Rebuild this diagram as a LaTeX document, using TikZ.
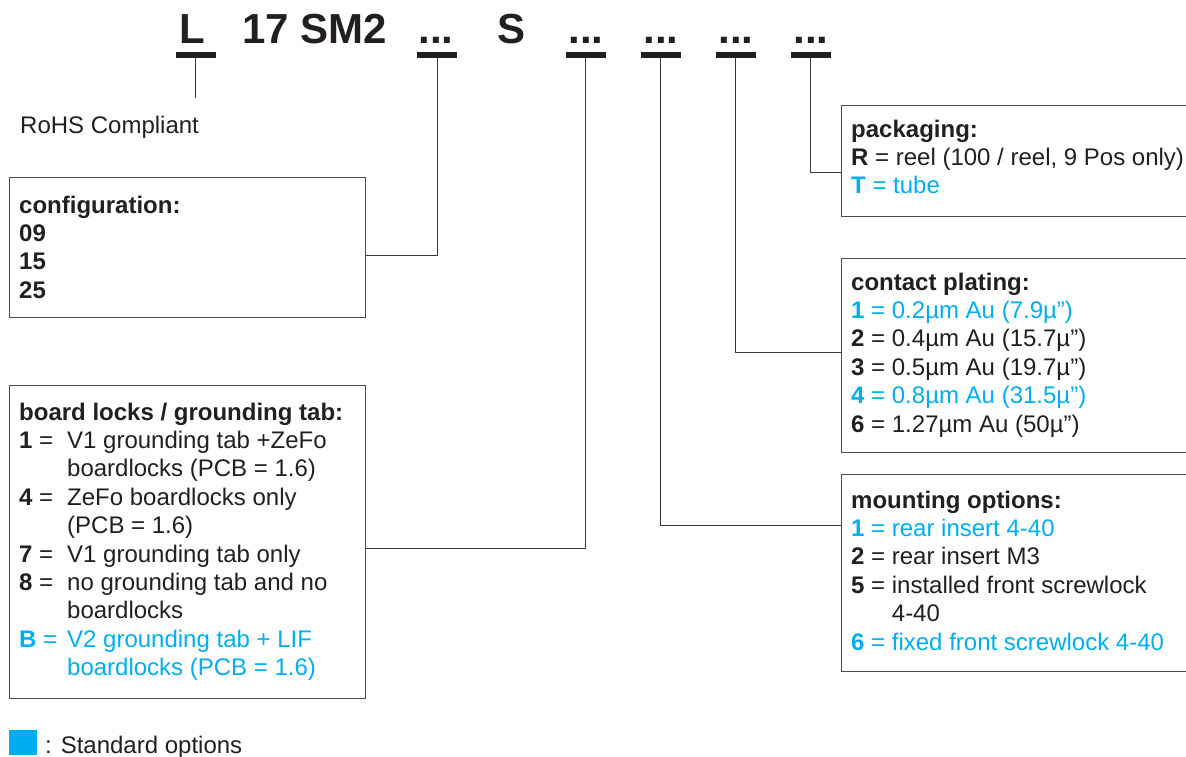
\documentclass[tikz,border=0pt]{standalone}
\usepackage{fontspec}
\setmainfont{Liberation Sans}
\definecolor{ink}{HTML}{231F20}
\definecolor{opt}{HTML}{00AEEF}
\definecolor{frame}{HTML}{4D4D4D}
\definecolor{wire}{HTML}{3A3A3A}
\newcommand\itemB[2]{\makebox[48pt][l]{\textbf{#1} =}#2}
\newcommand\indentB{\hspace*{48pt}}
\tikzset{
  hdr/.style={anchor=base, inner sep=0pt, text=ink, font=\fontsize{42}{50}\selectfont\bfseries},
  ulbar/.style={fill=ink, draw=none, inner sep=0pt, minimum width=40pt, minimum height=5.5pt},
  boxframe/.style={draw=frame, line width=1.3pt, inner sep=0pt, anchor=north west},
  txt/.style={anchor=base west, inner sep=0pt, text=ink, font=\fontsize{24}{28.4}\selectfont},
  wire/.style={draw=wire, line width=1pt},
}
\begin{document}
\begin{tikzpicture}[x=1pt,y=-1pt]
\path[use as bounding box] (0,0) rectangle (1186,756);
\clip (0,0) rectangle (1186,756);
% header
\node[hdr] (tL) at (192,43) {L};
\node[hdr] (t17) at (315,43) {17 SM2};
\node[hdr] (tc) at (436,43) {...};
\node[hdr] (tS) at (511.5,43) {S};
\node[hdr] (tb) at (586,43) {...};
\node[hdr] (tm) at (661,43) {...};
\node[hdr] (tp) at (736,43) {...};
\node[hdr] (tk) at (811,43) {...};
% underlines
\node[ulbar] (u1) at (195.5,55) {};
\node[ulbar] (u2) at (437,55) {};
\node[ulbar] (u3) at (585.5,55) {};
\node[ulbar] (u4) at (660.5,55) {};
\node[ulbar] (u5) at (735.5,55) {};
\node[ulbar] (u6) at (810.5,55) {};
% RoHS
\node[txt] (rohs) at (20,133) {RoHS Compliant};
\coordinate (rohstop) at (195.5,98);
% boxes
\node[boxframe, minimum width=356pt, minimum height=140pt] (config) at (9,177) {};
\node[boxframe, minimum width=356pt, minimum height=313pt] (board) at (9,385) {};
\node[boxframe, minimum width=400pt, minimum height=111pt] (pack) at (841,105) {};
\node[boxframe, minimum width=400pt, minimum height=194pt] (plate) at (841,258) {};
\node[boxframe, minimum width=400pt, minimum height=197pt] (mount) at (841,474) {};
% box texts
\node[txt] (configtxt) at (19,213) {\begin{tabular}[t]{@{}l@{}}
\textbf{configuration:}\\
\textbf{09}\\
\textbf{15}\\
\textbf{25}
\end{tabular}};
\node[txt] (boardtxt) at (19,420) {\begin{tabular}[t]{@{}l@{}}
\textbf{board locks / grounding tab:}\\
\itemB{1}{V1 grounding tab +ZeFo}\\
\indentB boardlocks (PCB = 1.6)\\
\itemB{4}{ZeFo boardlocks only}\\
\indentB (PCB = 1.6)\\
\itemB{7}{V1 grounding tab only}\\
\itemB{8}{no grounding tab and no}\\
\indentB boardlocks\\
\textcolor{opt}{\itemB{B}{V2 grounding tab + LIF}}\\
\textcolor{opt}{\indentB boardlocks (PCB = 1.6)}
\end{tabular}};
\node[txt] (packtxt) at (851,137) {\begin{tabular}[t]{@{}l@{}}
\textbf{packaging:}\\
\textbf{R} = reel (100 / reel, 9 Pos only)\\
\textcolor{opt}{\textbf{T} = tube}
\end{tabular}};
\node[txt] (platetxt) at (851,290) {\begin{tabular}[t]{@{}l@{}}
\textbf{contact plating:}\\
\textcolor{opt}{\textbf{1} = 0.2µm Au (7.9µ”)}\\
\textbf{2} = 0.4µm Au (15.7µ”)\\
\textbf{3} = 0.5µm Au (19.7µ”)\\
\textcolor{opt}{\textbf{4} = 0.8µm Au (31.5µ”)}\\
\textbf{6} = 1.27µm Au (50µ”)
\end{tabular}};
\node[txt] (mounttxt) at (851,508) {\begin{tabular}[t]{@{}l@{}}
\textbf{mounting options:}\\
\textcolor{opt}{\textbf{1} = rear insert 4-40}\\
\textbf{2} = rear insert M3\\
\textbf{5} = installed front screwlock\\
\phantom{\textbf{5} = }4-40\\
\textcolor{opt}{\textbf{6} = fixed front screwlock 4-40}
\end{tabular}};
% connectors
\draw[wire] (u1.south) -- (rohstop);
\draw[wire] (u2.south) |- ([yshift=-8pt]config.east);
\draw[wire] (u3.south) |- ([yshift=-6.5pt]board.east);
\draw[wire] (u4.south) |- ([yshift=47.5pt]mount.west);
\draw[wire] (u5.south) |- ([yshift=3pt]plate.west);
\draw[wire] (u6.south) |- ([yshift=-11.5pt]pack.west);
% legend
\node[fill=opt, draw=none, inner sep=0pt, minimum width=28pt, minimum height=25pt, anchor=north west] (legsq) at (9,730) {};
\node[txt] (legtxt) at (45,753) {: Standard options};
\end{tikzpicture}
\end{document}
